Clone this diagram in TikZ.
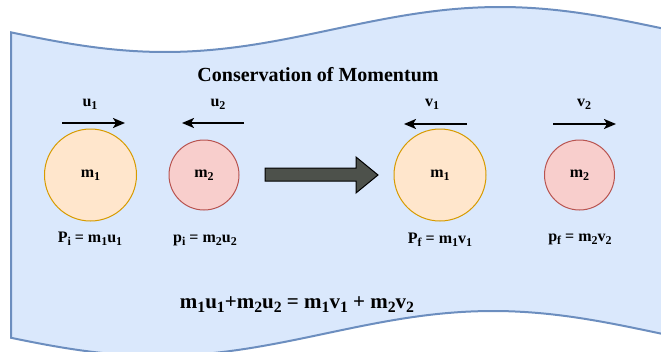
\documentclass[tikz,border=0pt]{standalone}
\usepackage{fontspec}
\setmainfont{Liberation Serif}
\usepackage{tikz}
\tikzset{x=1pt,y=-1pt}
\usetikzlibrary{arrows.meta}
\definecolor{tapefill}{HTML}{DAE8FC}
\definecolor{tapeline}{HTML}{6C8EBF}
\definecolor{orfill}{HTML}{FFE6CC}
\definecolor{orline}{HTML}{D79B00}
\definecolor{redfill}{HTML}{F8CECC}
\definecolor{redline}{HTML}{B85450}
\definecolor{bigarr}{HTML}{4D514B}
\def\sub#1#2{#1\raisebox{-.2em}{\scalebox{.75}{#2}}}

\begin{document}
\begin{tikzpicture}[
  lbl/.style={font=\fontsize{16}{19}\selectfont\bfseries, inner sep=0pt},
  big/.style={circle, draw=orline, fill=orfill, line width=1pt, minimum size=92pt, lbl},
  small/.style={circle, draw=redline, fill=redfill, line width=1pt, minimum size=70pt, lbl},
  mv/.style={line width=2pt, -{Stealth[length=12pt,width=10pt,inset=3pt]}}]
\clip (0,0) rectangle (661,351);
% wavy background
\draw[line width=2pt, draw=tapeline, fill=tapefill]
  plot[domain=11:700, samples=80] (\x, {29.5+22.5*cos((\x-165)/335*180)})
  -- plot[domain=700:11, samples=80] (\x, {333.5+22.5*cos((\x-158)/335*180)})
  -- cycle;
\node[lbl, anchor=base, font=\fontsize{20}{24}\selectfont\bfseries] (title) at (318,81) {Conservation of Momentum};

% before
\node[big] (m1i) at (90.5,175) {\sub m1};
\node[small] (m2i) at (204,175) {\sub m2};
\node[lbl, anchor=base] (u1) at (90,106) {\sub u1};
\node[lbl, anchor=base] (u2) at (218,106) {\sub u2};
\coordinate (u1s) at (62,123);
\coordinate (u1e) at (125,123);
\coordinate (u2s) at (244,123);
\coordinate (u2e) at (182,123);
\draw[mv] (u1s) -- (u1e);
\draw[mv] (u2s) -- (u2e);
\node[lbl, anchor=base] (pi1) at (90,242) {\sub Pi = \sub m1\sub u1};
\node[lbl, anchor=base] (pi2) at (205,242) {\sub pi = \sub m2\sub u2};

% big arrow
\draw[fill=bigarr, draw=black, line width=1pt] (265,168) -- (356,168) -- (356,157)
  -- (378,175) -- (356,193) -- (356,181) -- (265,181) -- cycle;

% after
\node[big] (m1f) at (440,175) {\sub m1};
\node[small] (m2f) at (579.5,175) {\sub m2};
\node[lbl, anchor=base] (v1) at (432,106) {\sub v1};
\node[lbl, anchor=base] (v2) at (584,106) {\sub v2};
\coordinate (v1s) at (467,124);
\coordinate (v1e) at (404,124);
\coordinate (v2s) at (553,124);
\coordinate (v2e) at (616,124);
\draw[mv] (v1s) -- (v1e);
\draw[mv] (v2s) -- (v2e);
\node[lbl, anchor=base] (pf1) at (440,243) {\sub Pf = \sub m1\sub v1};
\node[lbl, anchor=base] (pf2) at (580,241) {\sub pf = \sub m2\sub v2};

\node[lbl, anchor=base, font=\fontsize{21}{25}\selectfont\bfseries] (eq) at (297,308)
  {\sub m1\sub u1+\sub m2\sub u2 = \sub m1\sub v1 + \sub m2\sub v2};
\end{tikzpicture}
\end{document}
